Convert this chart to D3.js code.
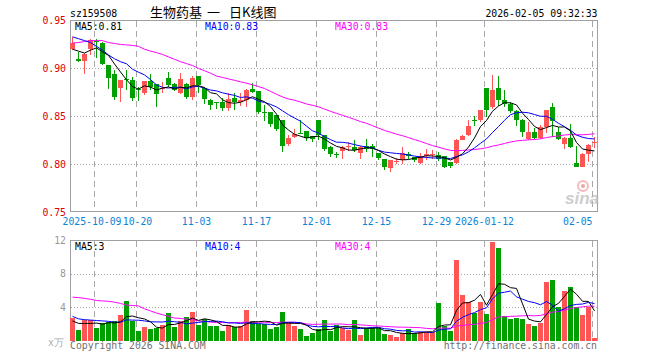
<!DOCTYPE html>
<html><head><meta charset="utf-8">
<script src="https://cdn.jsdelivr.net/npm/d3@7"></script>
<style>
body{margin:0;background:#fff}
svg{display:block}
text{font-family:"DejaVu Sans Mono",monospace;font-size:9.8px}
</style>
</head><body>
<svg id="c" width="660" height="360"></svg>
<script>
// ---- data ----
const dates = ["2025-09-25","2025-09-26","2025-09-29","2025-09-30",
"2025-10-09","2025-10-10","2025-10-13","2025-10-14","2025-10-15","2025-10-16","2025-10-17",
"2025-10-20","2025-10-21","2025-10-22","2025-10-23","2025-10-24","2025-10-27","2025-10-28","2025-10-29","2025-10-30","2025-10-31",
"2025-11-03","2025-11-04","2025-11-05","2025-11-06","2025-11-07","2025-11-10","2025-11-11","2025-11-12","2025-11-13","2025-11-14",
"2025-11-17","2025-11-18","2025-11-19","2025-11-20","2025-11-21","2025-11-24","2025-11-25","2025-11-26","2025-11-27","2025-11-28",
"2025-12-01","2025-12-02","2025-12-03","2025-12-04","2025-12-05","2025-12-08","2025-12-09","2025-12-10","2025-12-11","2025-12-12",
"2025-12-15","2025-12-16","2025-12-17","2025-12-18","2025-12-19","2025-12-22","2025-12-23","2025-12-24","2025-12-25","2025-12-26",
"2025-12-29","2025-12-30","2025-12-31","2026-01-05","2026-01-06","2026-01-07","2026-01-08","2026-01-09",
"2026-01-12","2026-01-13","2026-01-14","2026-01-15","2026-01-16","2026-01-19","2026-01-20","2026-01-21","2026-01-22","2026-01-23",
"2026-01-26","2026-01-27","2026-01-28","2026-01-29","2026-01-30","2026-02-02","2026-02-03","2026-02-04","2026-02-05"];

const open  = [0.920,0.910,0.908,0.920,0.929,0.927,0.904,0.894,0.880,0.889,0.888,0.878,0.8745,0.887,0.884,0.878,0.890,0.884,0.874,0.884,0.870,0.892,0.880,0.867,0.865,0.865,0.859,0.869,0.865,0.867,
0.878,0.876,0.854,0.854,0.851,0.846,0.821,0.828,0.833,0.835,0.829,0.846,0.830,0.818,0.8105,0.814,0.818,0.818,0.812,0.819,0.819,0.812,0.805,0.796,0.802,0.804,0.811,0.807,0.801,0.809,
0.810,0.810,0.808,0.802,0.801,0.825,0.830,0.846,0.846,0.880,0.860,0.880,0.867,0.863,0.856,0.846,0.826,0.834,0.827,0.839,0.860,0.834,0.821,0.827,0.801,0.797,0.811,0.822];
const high  = [0.933,0.917,0.916,0.931,0.931,0.928,0.904,0.898,0.888,0.898,0.891,0.881,0.887,0.894,0.884,0.886,0.896,0.885,0.895,0.885,0.892,0.892,0.881,0.868,0.865,0.869,0.874,0.874,0.874,0.878,
0.885,0.876,0.862,0.854,0.851,0.846,0.830,0.837,0.846,0.835,0.829,0.846,0.830,0.819,0.813,0.819,0.823,0.825,0.819,0.826,0.821,0.812,0.805,0.804,0.806,0.818,0.813,0.807,0.812,0.816,
0.815,0.813,0.808,0.802,0.826,0.830,0.846,0.850,0.857,0.880,0.893,0.892,0.877,0.865,0.857,0.847,0.844,0.838,0.841,0.857,0.864,0.839,0.828,0.842,0.819,0.812,0.821,0.828];
const low   = [0.919,0.907,0.894,0.914,0.911,0.904,0.878,0.867,0.865,0.877,0.866,0.866,0.872,0.877,0.860,0.874,0.881,0.876,0.873,0.868,0.867,0.874,0.863,0.857,0.858,0.856,0.856,0.857,0.861,0.860,
0.874,0.852,0.845,0.839,0.835,0.813,0.819,0.827,0.831,0.824,0.823,0.825,0.814,0.807,0.806,0.805,0.814,0.813,0.805,0.813,0.807,0.804,0.794,0.792,0.800,0.800,0.805,0.802,0.800,0.804,
0.805,0.803,0.796,0.796,0.800,0.825,0.829,0.840,0.844,0.849,0.858,0.861,0.860,0.853,0.840,0.828,0.825,0.826,0.826,0.832,0.828,0.825,0.816,0.817,0.797,0.797,0.802,0.817];
const close = [0.926,0.908,0.915,0.930,0.928,0.905,0.890,0.870,0.888,0.888,0.869,0.877,0.887,0.881,0.873,0.879,0.883,0.877,0.889,0.870,0.890,0.883,0.868,0.862,0.864,0.859,0.868,0.865,0.867,0.877,
0.875,0.854,0.853,0.842,0.837,0.819,0.827,0.831,0.832,0.827,0.826,0.830,0.816,0.811,0.810,0.818,0.8185,0.815,0.818,0.816,0.816,0.806,0.797,0.804,0.803,0.812,0.808,0.804,0.809,0.811,
0.8105,0.805,0.797,0.798,0.825,0.829,0.840,0.845,0.857,0.857,0.877,0.867,0.863,0.856,0.846,0.834,0.834,0.827,0.839,0.857,0.845,0.826,0.827,0.818,0.797,0.811,0.820,0.823];
const volume = [2.73,1.26,2.46,2.46,1.54,2.06,2.18,2.34,3.05,4.73,2.38,1.14,1.62,1.38,1.46,1.86,3.29,1.62,2.34,2.82,3.41,1.86,2.58,1.74,1.74,1.14,1.86,1.58,1.74,3.65,
2.34,1.94,1.94,1.38,1.62,3.41,2.10,1.74,1.38,0.58,0.90,1.34,2.46,1.20,1.86,1.46,1.26,2.46,0.66,1.46,1.46,1.54,0.78,0.66,0.38,0.94,1.34,0.86,1.06,0.98,
0.98,4.49,1.78,1.18,9.64,5.45,4.65,3.25,4.65,3.17,11.84,11.12,2.98,2.58,2.73,2.58,1.98,1.78,2.14,7.05,7.29,4.05,5.97,6.41,4.05,3.05,3.97,0.30];

const ma5Lead  = [0.920,0.918,0.916,0.919];
const ma10Lead = [0.933,0.931,0.929,0.927,0.923,0.919,0.914,0.910,0.907];
const ma30Lead = [0.9265,0.927,0.928,0.929,0.929,0.929,0.927,0.926,0.925,0.9245,0.924,0.923,0.920,0.918,0.9165,0.9145,0.912,0.9095,0.907,0.905,0.903,0.900,0.8975,0.895,0.892,0.8905,0.889,0.8875,0.886];
const volMa5Lead  = [2.35,2.05,2.05,2.05];
const volMa10Lead = [2.9,2.6,2.5,2.45,2.4,2.35,2.3,2.2,2.2];
const volMa30Lead = [5.2,5.15,5.05,4.95,4.8,4.75,4.7,4.6,4.45,4.25,4.2,4.15,3.8,3.55,3.3,3.1,2.9,2.7,2.65,2.55,2.5,2.35,2.3,2.2,2.15,2.15,2.15,2.15,2.17];

const priceTicks = [0.95,0.90,0.85,0.80,0.75];
const volTicks = [12,8,4];
const dateTicks = ["2025-10-09","2025-10-20","2025-11-03","2025-11-17","2025-12-01","2025-12-15","2025-12-29","2026-01-12","2026-02-05"];
const dateTickLabels = ["2025-10-09","10-20","11-03","11-17","12-01","12-15","12-29","2026-01-12","02-05"];

const code = "sz159508";
const titleParts = ["生物药基","一","日K线图"];
const stamp = "2026-02-05 09:32:33";
const maLabels = ["MA5:0.81","MA10:0.83","MA30:0.83"];
const volMaLabels = ["MA5:3","MA10:4","MA30:4"];
const maColors = ["#000000","#0000ff","#ff00ff"];

// ---- drawing ----
const svg = d3.select("#c");
const RED = "#ff5555", GREEN = "#00a000", GRID = "#a8a8a8", FRAME = "#a0a0a0";
const L = 70, R = 598;
const x = d3.scaleLinear().domain([0, dates.length]).range([L, R]);
const yP = d3.scaleLinear().domain([0.75, 0.95]).range([212, 20.5]);
const yV = d3.scaleLinear().domain([0, 12]).range([340.5, 240.5]);
const pTop = 20.5, pBot = 211.5, vTop = 240.5, vBot = 340.5;

function ma(arr, n, lead) {
  return arr.map((v, i) => i < lead.length ? lead[i] : d3.mean(arr.slice(i - n + 1, i + 1)));
}
const up = close.map((c, i) => c >= open[i]);

const grid = svg.append("g").attr("shape-rendering","crispEdges");
[0.90,0.85,0.80].forEach(v => {
  const yy = Math.round(yP(v)) + 0.5;
  grid.append("line").attr("x1",L+0.5).attr("x2",R-0.5).attr("y1",yy).attr("y2",yy)
    .attr("stroke",GRID).attr("stroke-dasharray","1,2");
});
[8,4].forEach(v => {
  const yy = Math.round(yV(v)) + 0.5;
  grid.append("line").attr("x1",L+0.5).attr("x2",R-0.5).attr("y1",yy).attr("y2",yy)
    .attr("stroke",GRID).attr("stroke-dasharray","1,2");
});
dateTicks.forEach(d => {
  const xx = Math.round(x(dates.indexOf(d))) + 0.5;
  [[pTop,pBot],[vTop,vBot]].forEach(([a,b]) => {
    grid.append("line").attr("x1",xx).attr("x2",xx).attr("y1",a).attr("y2",b)
      .attr("stroke",GRID).attr("stroke-dasharray","6,4");
  });
});

// frames
svg.append("rect").attr("x",L+0.5).attr("y",pTop).attr("width",R-L-1).attr("height",pBot-pTop)
  .attr("fill","none").attr("stroke",FRAME).attr("shape-rendering","crispEdges");
svg.append("path").attr("d",`M${L+0.5},${vBot}V${vTop}H${R-0.5}V${vBot}`)
  .attr("fill","none").attr("stroke",FRAME).attr("shape-rendering","crispEdges");

// candles
const cg = svg.append("g").attr("shape-rendering","crispEdges");
dates.forEach((d, i) => {
  const col = up[i] ? RED : GREEN;
  const cx = x(i) + 2.5;
  cg.append("line").attr("x1",cx).attr("x2",cx).attr("y1",yP(high[i])).attr("y2",yP(low[i]))
    .attr("stroke",col).attr("stroke-width",1);
  const yt = yP(Math.max(open[i], close[i])), yb = yP(Math.min(open[i], close[i]));
  cg.append("rect").attr("x",x(i)).attr("y",yt).attr("width",5).attr("height",Math.max(1, yb - yt))
    .attr("fill",col);
});

// volume bars
const vg = svg.append("g").attr("shape-rendering","crispEdges");
volume.forEach((v, i) => {
  vg.append("rect").attr("x",x(i)).attr("y",yV(v)).attr("width",5).attr("height",vBot - yV(v))
    .attr("fill", up[i] ? RED : GREEN);
});

// moving averages
const priceMAs = [ma(close,5,ma5Lead), ma(close,10,ma10Lead), ma(close,30,ma30Lead)];
const volMAs = [ma(volume,5,volMa5Lead), ma(volume,10,volMa10Lead), ma(volume,30,volMa30Lead)];
const lineP = d3.line().x((d,i) => x(i) + 2.5).y(d => yP(d));
const lineV = d3.line().x((d,i) => x(i) + 2.5).y(d => yV(d));
[2,1,0].forEach(k => {
  svg.append("path").attr("d", lineP(priceMAs[k])).attr("fill","none").attr("stroke",maColors[k]).attr("stroke-width",1);
  svg.append("path").attr("d", lineV(volMAs[k])).attr("fill","none").attr("stroke",maColors[k]).attr("stroke-width",1);
});

// price axis labels
priceTicks.forEach(v => {
  svg.append("text").attr("x",66).attr("y",yP(v)+3.5).attr("text-anchor","end")
    .attr("fill","#e00000").text(v.toFixed(2));
});
volTicks.forEach(v => {
  svg.append("text").attr("x",66).attr("y",yV(v)+3.5).attr("text-anchor","end")
    .attr("fill","#999").text(v);
});
// date labels
dateTicks.forEach((d, k) => {
  const xx = Math.round(x(dates.indexOf(d))) + 0.5;
  const last = k === dateTicks.length - 1;
  const first = k === 0;
  svg.append("text").attr("x", first ? xx - 2.5 : (k === 1 ? xx + 1 : xx)).attr("y",225)
    .attr("text-anchor", last ? "end" : "middle")
    .attr("fill","#0a84d6").text(dateTickLabels[k]);
});

// header
svg.append("text").attr("x",70).attr("y",17).attr("fill","#000").text(code);
const tx = [150, 207, 229];
titleParts.forEach((t, k) => {
  svg.append("text").attr("x",tx[k]).attr("y",17)
    .style("font-family","'Noto Sans CJK SC',sans-serif").style("font-size","13px")
    .attr("fill","#000").text(t);
});
svg.append("text").attr("x",597.5).attr("y",17).attr("text-anchor","end").attr("fill","#000").text(stamp);

const labX = [75, 205, 335];
maLabels.forEach((t,k) => svg.append("text").attr("x",labX[k]).attr("y",30).attr("fill",maColors[k]).text(t));
volMaLabels.forEach((t,k) => svg.append("text").attr("x",labX[k]).attr("y",250).attr("fill",maColors[k]).text(t));

// footer
svg.append("text").attr("x",48).attr("y",346).attr("fill","#aaa").text("x万");
svg.append("text").attr("x",70).attr("y",349).attr("fill","#707070").text("Copyright 2026 SINA.COM");
svg.append("text").attr("x",597).attr("y",349).attr("text-anchor","end").attr("fill","#707070").text("http://finance.sina.com.cn");

// sina watermark
const wm = svg.append("g").attr("opacity",0.75);
wm.append("circle").attr("cx",583).attr("cy",186).attr("r",5).attr("fill","none").attr("stroke","#f3a3a3").attr("stroke-width",2);
wm.append("circle").attr("cx",583).attr("cy",186).attr("r",2).attr("fill","#e58a8a");
wm.append("text").attr("x",565).attr("y",204)
  .style("font-family","'Liberation Sans',Arial,sans-serif").style("font-size","17px")
  .style("font-style","italic").style("font-weight","bold").attr("fill","#bdbdbd").text("sina");
</script>
</body></html>
